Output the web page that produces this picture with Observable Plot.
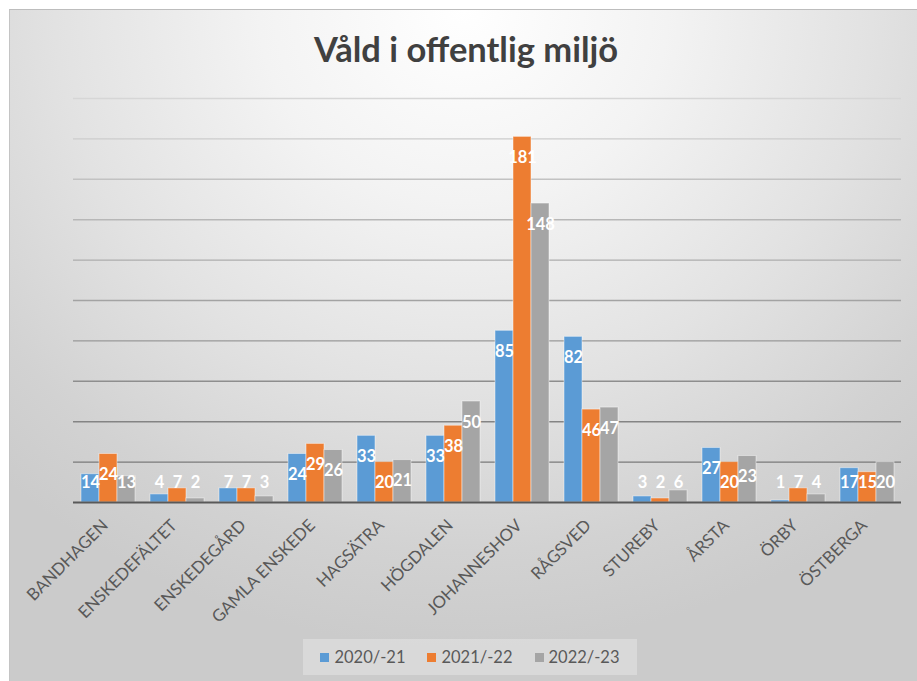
<!DOCTYPE html>
<html>
<head>
<meta charset="utf-8">
<script src="https://cdn.jsdelivr.net/npm/d3@7"></script>
<script src="https://cdn.jsdelivr.net/npm/@observablehq/plot@0.6"></script>
<style>
  html, body { margin: 0; padding: 0; background: #ffffff; }
  #page { position: relative; width: 917px; height: 681px; overflow: hidden; }
  #chartbg {
    position: absolute; left: 9px; top: 9px; width: 908px; height: 672px;
    border-top: 1px solid #bdbdbd; border-left: 1px solid #c4c4c4; box-sizing: border-box;
    background: radial-gradient(ellipse 75% 95% at 50% 0%, #ffffff 0%, #f3f3f3 30%, #e2e2e2 60%, #d2d2d2 85%, #cbcbcb 100%);
  }
  #title {
    position: absolute; left: 466px; top: 32px; transform: translateX(-50%);
    font-family: Lato, "Open Sans", sans-serif; font-weight: 700; font-size: 34.5px;
    line-height: 1; color: #404040; white-space: nowrap;
  }
  #plot { position: absolute; left: 0; top: 0; }
  #legend {
    position: absolute; left: 303px; top: 639px; width: 334px; height: 36px;
    background: rgba(255,255,255,0.28);
    display: flex; align-items: center; justify-content: center; gap: 22px;
    font-family: Lato, "Open Sans", sans-serif; font-size: 16.5px; color: #595959;
  }
  .item { display: flex; align-items: center; gap: 5px; }
  .sw { width: 9px; height: 9px; display: inline-block; }
</style>
</head>
<body>
<div id="page">
  <div id="chartbg"></div>
  <div id="title">Våld i offentlig miljö</div>
  <div id="plot"></div>
  <div id="legend"></div>
</div>
<script>
const categories = ["BANDHAGEN","ENSKEDEFÄLTET","ENSKEDEGÅRD","GAMLA ENSKEDE","HAGSÄTRA","HÖGDALEN","JOHANNESHOV","RÅGSVED","STUREBY","ÅRSTA","ÖRBY","ÖSTBERGA"];
const seriesNames = ["2020/-21","2021/-22","2022/-23"];
const values2020 = [14,4,7,24,33,33,85,82,3,27,1,17];
const values2021 = [24,7,7,29,20,38,181,46,2,20,7,15];
const values2022 = [13,2,3,26,21,50,148,47,6,23,4,20];
const yTicks = [20,40,60,80,100,120,140,160,180,200];
const colors = ["#5B9BD5","#ED7D31","#A5A5A5"];

const seriesValues = [values2020, values2021, values2022];
const data = [];
categories.forEach((c, i) => {
  seriesNames.forEach((s, j) => data.push({cat: c, series: s, value: seriesValues[j][i]}));
});

const gridColor = d3.scaleLinear().domain([20, 200]).range(["#7a7a7a", "#d6d6d6"]).interpolate(d3.interpolateRgb);

const chart = Plot.plot({
  width: 917,
  height: 640,
  marginLeft: 68,
  marginRight: 10,
  marginTop: 98,
  marginBottom: 138,
  style: {background: "transparent", overflow: "visible"},
  fx: {domain: categories, paddingInner: 0.2, paddingOuter: 0.1, axis: null, label: null},
  x: {domain: seriesNames, padding: 0, axis: null},
  y: {domain: [0, 200], axis: null},
  color: {domain: seriesNames, range: colors},
  marks: [
    Plot.ruleY(yTicks, {y: d => d, stroke: d => gridColor(d), strokeWidth: 1.4, insetLeft: -7, insetRight: -7}),
    Plot.barY(data, {fx: "cat", x: "series", y: "value", fill: "series", stroke: "#ffffff", strokeOpacity: 0.45, strokeWidth: 1}),
    Plot.ruleY([0], {stroke: "#595959", strokeWidth: 2, insetLeft: -7, insetRight: -7}),
    Plot.text(data, {fx: "cat", x: "series", y: d => Math.max(d.value, 20), text: d => String(d.value), dy: 21,
      fill: "#ffffff", fontSize: 16.5, fontWeight: 700, fontFamily: "Lato, sans-serif"}),
    Plot.text(categories, {fx: d => d, text: d => d, frameAnchor: "bottom", rotate: -45, textAnchor: "end",
      dx: 1, dy: 24, fill: "#595959", fontSize: 16.8, fontFamily: "Lato, sans-serif"})
  ]
});
document.getElementById("plot").appendChild(chart);

const legend = document.getElementById("legend");
seriesNames.forEach((s, i) => {
  const item = document.createElement("div");
  item.className = "item";
  const sw = document.createElement("span");
  sw.className = "sw";
  sw.style.background = colors[i];
  const t = document.createElement("span");
  t.textContent = s;
  item.appendChild(sw);
  item.appendChild(t);
  legend.appendChild(item);
});
</script>
</body>
</html>
